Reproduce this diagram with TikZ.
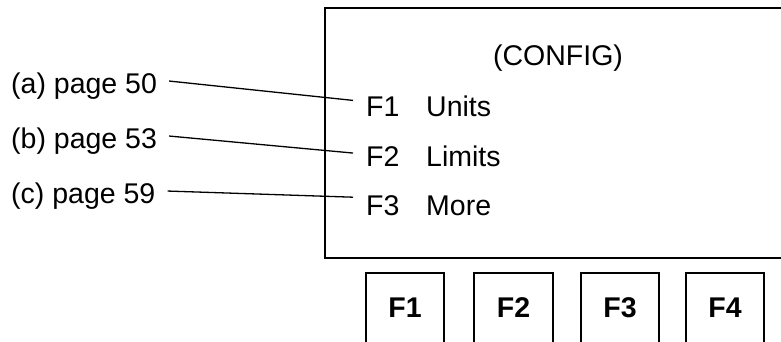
\documentclass[tikz,border=0pt]{standalone}
\usepackage{fontspec}
\setmainfont{Liberation Sans}
\begin{document}
\begin{tikzpicture}[x=1pt,y=-1pt,
  txt/.style={inner sep=0pt,font=\fontsize{28.5}{34}\selectfont},
  btxt/.style={inner sep=0pt,font=\fontsize{28.5}{34}\selectfont\bfseries},
  frame/.style={line width=2pt},
  btn/.style={line width=1.5pt},
  conn/.style={line width=1.3pt}]
\clip (0,0) rectangle (781,341);
% screen
\draw[frame] (795,8) -- (325,8) -- (325,258) -- (795,258);
% title
\node[txt,anchor=base] (title) at (558,65) {(CONFIG)};
% menu rows
\node[txt,anchor=base west] (f1) at (366,116) {F1};
\node[txt,anchor=base west] (u1) at (426,116) {Units};
\node[txt,anchor=base west] (f2) at (366,166) {F2};
\node[txt,anchor=base west] (u2) at (426,166) {Limits};
\node[txt,anchor=base west] (f3) at (366,215) {F3};
\node[txt,anchor=base west] (u3) at (426,215) {More};
% left labels
\node[txt,anchor=base west] (la) at (11,93) {(a) page 50};
\node[txt,anchor=base west] (lb) at (11,148) {(b) page 53};
\node[txt,anchor=base west] (lc) at (11,203) {(c) page 59};
% connectors (shift values are canvas pt: positive y is upward)
\draw[conn] ([shift={(12pt,4.6pt)}]la.east) -- ([shift={(-13pt,5.8pt)}]f1.west);
\draw[conn] ([shift={(12pt,4.6pt)}]lb.east) -- ([shift={(-13pt,3pt)}]f2.west);
\draw[conn] ([shift={(12pt,4.6pt)}]lc.east) -- ([shift={(-13pt,8pt)}]f3.west);
% buttons
\draw[btn] (366,350) -- (366,273) -- (444,273) -- (444,350);
\draw[btn] (474,350) -- (474,273) -- (553,273) -- (553,350);
\draw[btn] (581,350) -- (581,273) -- (659,273) -- (659,350);
\draw[btn] (686,350) -- (686,273) -- (764,273) -- (764,350);
\node[btxt,anchor=base] (b1) at (405,317) {F1};
\node[btxt,anchor=base] (b2) at (513.5,317) {F2};
\node[btxt,anchor=base] (b3) at (620,317) {F3};
\node[btxt,anchor=base] (b4) at (725,317) {F4};
\end{tikzpicture}
\end{document}
